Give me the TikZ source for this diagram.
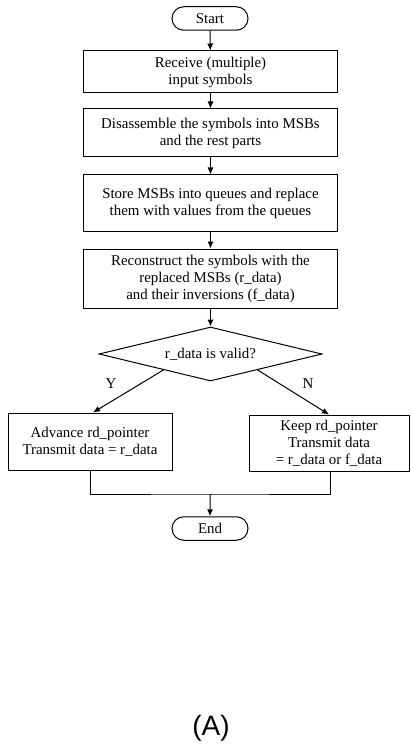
\documentclass[tikz,border=0pt]{standalone}
\usepackage{fontspec}
\setmainfont{Liberation Serif}
\newfontfamily\capfont{Liberation Sans}
\usetikzlibrary{arrows.meta,shapes.geometric,shapes.misc,calc}
\begin{document}
\begin{tikzpicture}[x=1pt,y=-1pt,
  every node/.style={font=\fontsize{14.9}{17}\selectfont, inner sep=0pt, align=center},
  procbox/.style={draw, line width=1pt, rectangle},
  termbox/.style={draw, line width=1pt, rounded rectangle, minimum width=76pt, minimum height=23.5pt},
  decbox/.style={draw, line width=1pt, diamond, aspect=4, minimum width=223pt, minimum height=54pt},
  flow/.style={line width=1pt, -{Latex[length=7pt,width=6pt]}},
  plain/.style={line width=1pt}]
\useasboundingbox (0,0) rectangle (410,746);
\node[termbox] (start) at (210,18.5) {Start};
\node[procbox, minimum width=254pt, minimum height=42pt] (b1) at (210.5,72) {Receive (multiple)\\input symbols};
\node[procbox, minimum width=254pt, minimum height=48pt] (b2) at (210.5,133) {Disassemble the symbols into MSBs\\and the rest parts};
\node[procbox, minimum width=254pt, minimum height=56pt] (b3) at (210.5,203) {Store MSBs into queues and replace\\them with values from the queues};
\node[procbox, minimum width=254pt, minimum height=59pt] (b4) at (210.5,278.5) {Reconstruct the symbols with the\\replaced MSBs (r\_data)\\and their inversions (f\_data)};
\node[decbox] (dec) at (210.5,354) {r\_data is valid?};
\node[procbox, minimum width=164pt, minimum height=57pt] (lb) at (90,441.5) {Advance rd\_pointer\\Transmit data = r\_data};
\node[procbox, minimum width=160pt, minimum height=56pt] (rb) at (329,443) {Keep rd\_pointer\\Transmit data\\= r\_data or f\_data};
\node[termbox] (end) at (210,528.5) {End};
\node (ylab) at (111,384) {Y};
\node (nlab) at (308,384) {N};
\node[font=\capfont\fontsize{28}{32}\selectfont] (cap) at (211,728) {(A)};
\coordinate (m) at (210,494);
\draw[flow] (start) -- (b1);
\draw[flow] (b1) -- (b2);
\draw[flow] (b2) -- (b3);
\draw[flow] (b3) -- (b4);
\draw[flow] (b4) -- (dec);
\draw[flow] ($(dec.south)!0.42!(dec.west)$) -- ([xshift=3pt]lb.north);
\draw[flow] ($(dec.south)!0.42!(dec.east)$) -- (rb.north);
\draw[plain] (lb.south) |- (m) -| ([xshift=1pt]rb.south);
\draw[flow] (m) -- (end);
\end{tikzpicture}
\end{document}
